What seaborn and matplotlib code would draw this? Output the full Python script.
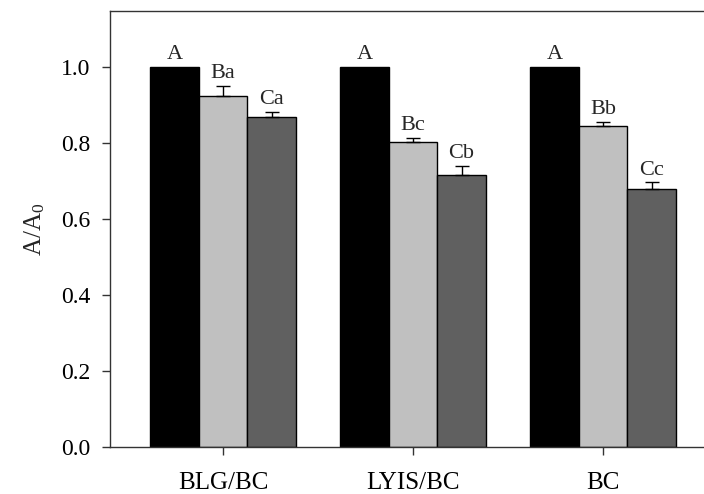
import matplotlib
matplotlib.use("Agg")
import matplotlib.pyplot as plt
import seaborn as sns
import pandas as pd
import numpy as np

groups = ["BLG/BC", "LYIS/BC", "BC"]
series = ["s1", "s2", "s3"]
values_s1 = [1.0, 1.0, 1.0]
values_s2 = [0.924, 0.802, 0.844]
values_s3 = [0.869, 0.716, 0.679]
err_s2 = [0.027, 0.012, 0.011]
err_s3 = [0.013, 0.024, 0.017]
err_s1 = [0.0, 0.0, 0.0]
labels_s1 = ["A", "A", "A"]
labels_s2 = ["Ba", "Bc", "Bb"]
labels_s3 = ["Ca", "Cb", "Cc"]
colors = ["#000000", "#c0c0c0", "#606060"]

rows = []
for s, vals in zip(series, [values_s1, values_s2, values_s3]):
    for g, v in zip(groups, vals):
        rows.append({"group": g, "series": s, "value": v})
df = pd.DataFrame(rows)

sns.set_theme(style="ticks")
plt.rcParams["font.family"] = ["Liberation Serif", "DejaVu Serif"]
plt.rcParams["mathtext.fontset"] = "custom"
plt.rcParams["mathtext.rm"] = "Liberation Serif"
plt.rcParams["mathtext.it"] = "Liberation Serif"

fig = plt.figure(figsize=(7.04, 4.94), dpi=100)
ax = fig.add_axes([0.1563, 0.0951, 0.861, 0.8826])

sns.barplot(data=df, x="group", y="value", hue="series", order=groups,
            hue_order=series, palette=colors, edgecolor="black", linewidth=1.0,
            width=0.766, errorbar=None, legend=False, ax=ax, saturation=1)

errs = [err_s1, err_s2, err_s3]
labs = [labels_s1, labels_s2, labels_s3]
vals_all = [values_s1, values_s2, values_s3]
patches = [p for p in ax.patches if p.get_height() > 0]
# patches ordered by hue then group
for si in range(3):
    for gi in range(3):
        p = patches[si * 3 + gi]
        x = p.get_x() + p.get_width() / 2
        v = vals_all[si][gi]
        e = errs[si][gi]
        if e > 0:
            ax.errorbar([x], [v], yerr=[[0], [e]], fmt="none", ecolor="black",
                        elinewidth=1.0, capsize=5, capthick=1.0)
        ax.annotate(labs[si][gi], (x, v + e), xytext=(0, 2),
                    textcoords="offset points", ha="center", va="bottom",
                    fontsize=16)

ax.set_ylim(0, 1.147)
ax.set_xlim(-0.595, 2.595)
ax.set_yticks([0.0, 0.2, 0.4, 0.6, 0.8, 1.0])
ax.set_yticklabels(["0.0", "0.2", "0.4", "0.6", "0.8", "1.0"])
ax.set_xlabel("")
ax.set_ylabel("A/A$_0$", fontsize=18, labelpad=10)
ax.tick_params(axis="both", length=6, width=1, direction="out",
               colors="#333333", labelcolor="black")
ax.tick_params(axis="y", labelsize=17, pad=8)
ax.tick_params(axis="x", labelsize=18, pad=12)
for sp in ax.spines.values():
    sp.set_visible(True)
    sp.set_color("#333333")
    sp.set_linewidth(1.0)

fig.savefig("out.png", dpi=100)
